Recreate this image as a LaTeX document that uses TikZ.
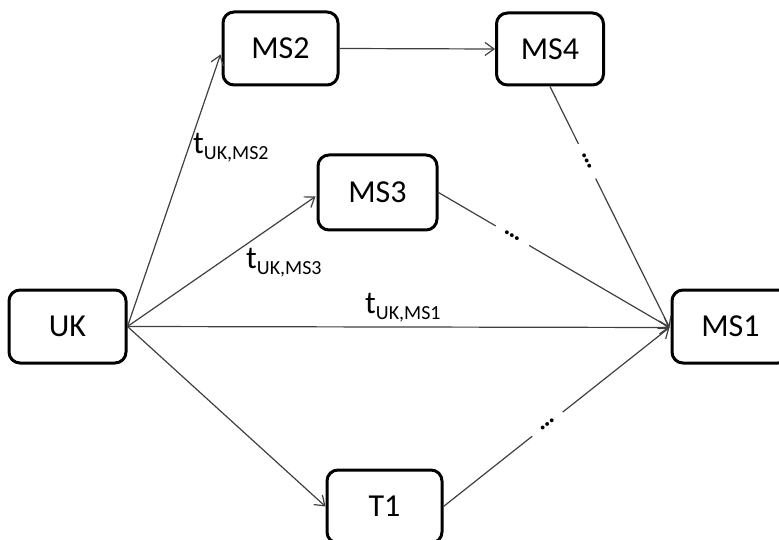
\documentclass[tikz,border=0pt]{standalone}
\usepackage{fontspec}
\setmainfont{Carlito}
\usetikzlibrary{arrows.meta,calc}
\tikzset{
  box/.style={draw=black, line width=3pt, rounded corners=11pt, fill=white,
    inner sep=0pt, font=\fontsize{32}{36}\selectfont},
  conn/.style={draw=black!75, line width=1.2pt,
    -{Straight Barb[length=9pt,width=13pt,line width=1.2pt]}},
  dots/.style={sloped, fill=white, inner xsep=10pt, inner ysep=1pt,
    font=\fontsize{26}{26}\selectfont\bfseries},
  lbl/.style={anchor=west, inner sep=0pt, font=\fontsize{32}{36}\selectfont}
}
\newcommand{\tsub}[1]{t\raisebox{-6pt}{\fontsize{20}{20}\selectfont #1}}
\begin{document}
\begin{tikzpicture}[x=1pt,y=-1pt]
\useasboundingbox[fill=white] (0,0) rectangle (779,540);
\node[box, minimum width=117pt, minimum height=73pt] (UK)  at (67.5,326.5) {UK};
\node[box, minimum width=115pt, minimum height=73pt] (MS2) at (280.5,48.5) {MS2};
\node[box, minimum width=107pt, minimum height=72pt] (MS4) at (550,49) {MS4};
\node[box, minimum width=119pt, minimum height=75pt] (MS3) at (377.5,192.5) {MS3};
\node[box, minimum width=117pt, minimum height=73pt] (MS1) at (730.5,326.5) {MS1};
\node[box, minimum width=115pt, minimum height=73pt] (T1)  at (384.5,506.5) {T1};

\coordinate (ms2in) at ($(MS2.west)+(-1,6)$);
\coordinate (ms3in) at ($(MS3.west)+(-1,4)$);
\coordinate (ms1in) at ($(MS1.west)+(-1,1)$);

\draw[conn] (UK.east) -- (ms2in);
\draw[conn] (UK.east) -- (ms3in);
\draw[conn] (UK.east) -- (ms1in);
\draw[conn] (UK.east) -- (T1.west);
\draw[conn] (MS2.east) -- (MS4.west);
\draw[conn] (MS4.south) -- node[dots, pos=0.31] {…} (ms1in);
\draw[conn] (MS3.east) -- node[dots, pos=0.32] {…} (ms1in);
\draw[conn] (T1.east) -- node[dots, pos=0.46] {…} (ms1in);

\node[lbl] (l2) at (193,148) {\tsub{UK,MS2}};
\node[lbl] (l3) at (246,263) {\tsub{UK,MS3}};
\node[lbl] (l1) at (365,308) {\tsub{UK,MS1}};
\end{tikzpicture}
\end{document}
